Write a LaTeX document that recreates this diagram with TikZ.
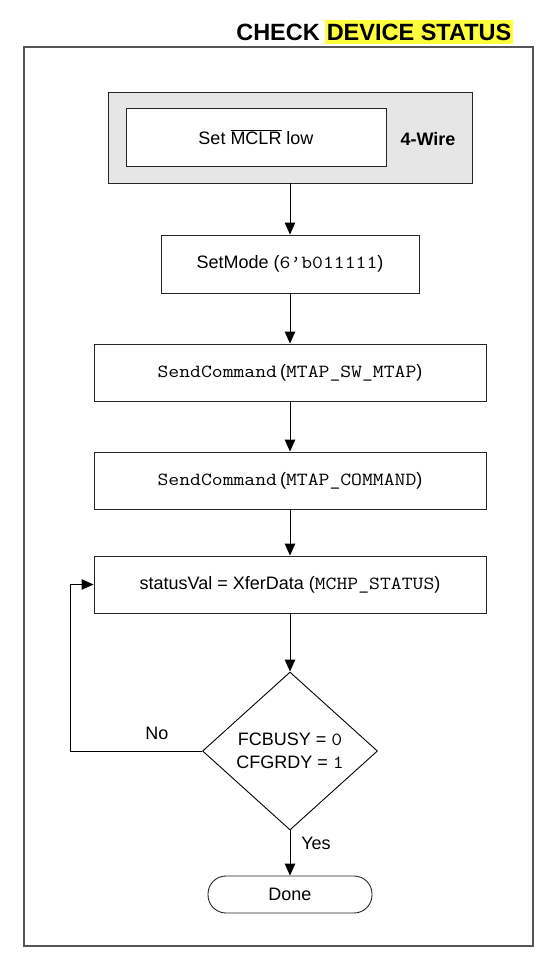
\documentclass[tikz,border=0pt]{standalone}
\usepackage{fontspec}
\usepackage{graphicx}
\setmainfont{Liberation Sans}
\newfontfamily\lmmono{Latin Modern Mono}
\newcommand\cw[1]{\scalebox{1.14}[1]{\fontsize{18.5}{22}\lmmono #1}}
\usetikzlibrary{shapes.geometric,arrows.meta}
\definecolor{hl}{HTML}{FFFF3C}
\definecolor{grayfill}{HTML}{E6E6E6}
\definecolor{frame}{HTML}{555555}
\tikzset{
  base/.style={font=\fontsize{18}{23}\selectfont, inner sep=0pt, align=center},
  procbox/.style={base, draw=black!85, line width=0.9pt, rectangle},
  flow/.style={draw=black, line width=0.9pt, -{Triangle[length=12pt,width=10.5pt]}},
}
\begin{document}
\begin{tikzpicture}[x=1pt,y=-1pt]
\useasboundingbox (0,0) rectangle (556,972);
% outer frame
\draw[frame, line width=1.2pt] (24,47) rectangle (533,946);
% title
\node[font=\fontsize{23.5}{26}\selectfont\bfseries, fill=hl, anchor=east, minimum height=24pt, inner xsep=1.5pt, inner ysep=0pt] (t2) at (513,32) {DEVICE STATUS};
\node[font=\fontsize{23.5}{26}\selectfont\bfseries, anchor=east, inner sep=0pt] (t1) at ([xshift=-5pt]t2.west) {CHECK};
% gray 4-wire block
\node[procbox, fill=grayfill, minimum width=364pt, minimum height=91pt] (gray) at (290,137.5) {};
\node[procbox, fill=white, minimum width=260pt, minimum height=58pt] (mclr) at (256,137) {Set $\overline{\hbox{MCLR}}$ low};
\node[base, font=\fontsize{18}{22}\selectfont\bfseries] (wire) at (428,139) {4-Wire};
% process boxes
\node[procbox, minimum width=258pt, minimum height=58pt] (mode) at (290,264) {SetMode (\cw{6\char"2019b011111})};
\node[procbox, minimum width=392pt, minimum height=57pt] (sw) at (290,372.5) {\cw{SendCommand}\,(\cw{MTAP\_SW\_MTAP})};
\node[procbox, minimum width=392pt, minimum height=57pt] (cmd) at (290,480.5) {\cw{SendCommand}\,(\cw{MTAP\_COMMAND})};
\node[procbox, minimum width=392pt, minimum height=57pt] (stat) at (290,584.5) {statusVal = XferData (\cw{MCHP\_STATUS})};
% decision
\node[base, draw=black, line width=0.9pt, diamond, minimum width=175pt, minimum height=158pt] (dia) at (290,751) {FCBUSY = \cw{0}\\CFGRDY = \cw{1}};
% terminator
\node[procbox, rounded corners=18pt, minimum width=164pt, minimum height=37pt] (done) at (290,894.5) {Done};
% connectors
\draw[flow] (gray.south) -- (mode.north);
\draw[flow] (mode.south) -- (sw.north);
\draw[flow] (sw.south) -- (cmd.north);
\draw[flow] (cmd.south) -- (stat.north);
\draw[flow] (stat.south) -- (dia.north);
\draw[flow] (dia.south) -- (done.north);
\coordinate (lp) at (70,751);
\draw[flow] (dia.west) -- (lp) |- (stat.west);
% labels
\node[base] (no) at (157,733) {No};
\node[base] (yes) at (316,843) {Yes};
\end{tikzpicture}
\end{document}
